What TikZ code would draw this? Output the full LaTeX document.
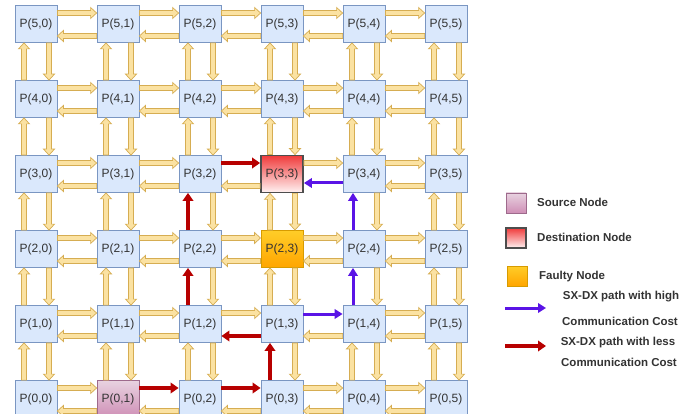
\documentclass[tikz,border=0pt]{standalone}
\usepackage{fontspec}
\setmainfont{Liberation Sans}
\usetikzlibrary{calc,arrows.meta}
\definecolor{cellfill}{HTML}{DAE8FC}
\definecolor{celldraw}{HTML}{7A96C2}
\definecolor{yfill}{HTML}{FBE2A2}
\definecolor{ydraw}{HTML}{D6AD52}
\definecolor{redpath}{HTML}{B70000}
\definecolor{bluepath}{HTML}{5A14E6}
\definecolor{txt}{HTML}{333333}
\definecolor{srctop}{HTML}{E8D2E0}
\definecolor{srcbot}{HTML}{CF8FB6}
\definecolor{srcdraw}{HTML}{9E6A8C}
\definecolor{dsttop}{HTML}{F03C3C}
\definecolor{dstbot}{HTML}{FFF2F2}
\definecolor{dstdraw}{HTML}{4D4D4D}
\definecolor{flttop}{HTML}{FFCD28}
\definecolor{fltbot}{HTML}{FFA500}
\definecolor{fltdraw}{HTML}{D79B00}
\newcommand\markskip[1]{\expandafter\def\csname skip#1\endcsname{}}
\newcommand\fatarrow[2]{%
  \path (#1) coordinate (fS) (#2) coordinate (fE);
  \path ($(fE)!6pt!(fS)$) coordinate (fH);
  \filldraw[yarrow] ($(fS)!2.5pt!90:(fE)$) -- ($(fH)!2.5pt!90:(fE)$) -- ($(fH)!5.5pt!90:(fE)$) -- (fE) -- ($(fH)!5.5pt!-90:(fE)$) -- ($(fH)!2.5pt!-90:(fE)$) -- ($(fS)!2.5pt!-90:(fE)$) -- cycle;}
% links replaced by coloured path arrows
\markskip{R01}\markskip{R02}\markskip{R32}\markskip{R13}
\markskip{L12}\markskip{L33}
\markskip{U03}\markskip{U12}\markskip{U22}\markskip{U14}\markskip{U24}
\begin{document}
\begin{tikzpicture}[x=1pt,y=-1pt,
  cell/.style={draw=celldraw,fill=cellfill,line width=0.8pt,minimum width=42pt,minimum height=37pt,inner sep=0pt,
    font=\fontsize{12}{14}\selectfont,text=txt},
  src/.style={cell,draw=srcdraw,top color=srctop,bottom color=srcbot},
  dst/.style={cell,draw=dstdraw,line width=1.8pt,top color=dsttop,bottom color=dstbot},
  fault/.style={cell,draw=fltdraw,line width=1pt,top color=flttop,bottom color=fltbot},
  yarrow/.style={draw=ydraw,fill=yfill,line width=0.7pt,line join=miter},
  redarr/.style={draw=redpath,line width=3.5pt,-{Triangle[length=8pt,width=10.5pt]}},
  bluearr/.style={draw=bluepath,line width=3pt,-{Triangle[length=8pt,width=9.5pt]}},
  legtext/.style={inner sep=0pt,font=\fontsize{11.5}{13}\selectfont\bfseries,text=txt}]
\useasboundingbox (0,0) rectangle (693,414);
\clip (0,0) rectangle (693,414);
\fill[white] (0,0) rectangle (693,414);
% grid of nodes
\foreach \row in {0,...,5}{
  \foreach \col in {0,...,5}{
    \def\st{cell}
    \ifnum\row\col=1 \def\st{src}\fi
    \ifnum\row\col=33 \def\st{dst}\fi
    \ifnum\row\col=23 \def\st{fault}\fi
    \node[\st] (n\row\col) at ({36+82*\col},{24+75*(5-\row)}) {P(\row,\col)};
  }
}
% horizontal links
\foreach \row in {0,...,5}{
  \foreach \col [evaluate=\col as \nxt using int(\col+1)] in {0,...,4}{
    \ifcsname skipR\row\col\endcsname\else
      \fatarrow{[yshift=11pt]n\row\col.east}{[yshift=11pt]n\row\nxt.west}\fi
    \ifcsname skipL\row\col\endcsname\else
      \fatarrow{[yshift=-12pt]n\row\nxt.west}{[yshift=-12pt]n\row\col.east}\fi
  }
}
% vertical links
\foreach \row [evaluate=\row as \up using int(\row+1)] in {0,...,4}{
  \foreach \col in {0,...,5}{
    \ifcsname skipU\row\col\endcsname\else
      \fatarrow{[xshift=-12pt]n\row\col.north}{[xshift=-12pt]n\up\col.south}\fi
    \fatarrow{[xshift=13pt]n\up\col.south}{[xshift=13pt]n\row\col.north}
  }
}
% low communication cost path (red)
\draw[redarr] ([yshift=11pt]n01.east) -- ([yshift=11pt]n02.west);
\draw[redarr] ([yshift=11pt]n02.east) -- ([yshift=11pt]n03.west);
\draw[redarr] ([xshift=-12pt]n03.north) -- ([xshift=-12pt]n13.south);
\draw[redarr] ([yshift=-12pt]n13.west) -- ([yshift=-12pt]n12.east);
\draw[redarr] ([xshift=-12pt]n12.north) -- ([xshift=-12pt]n22.south);
\draw[redarr] ([xshift=-12pt]n22.north) -- ([xshift=-12pt]n32.south);
\draw[redarr] ([yshift=11pt]n32.east) -- ([yshift=11pt]n33.west);
% high communication cost path (blue)
\draw[bluearr] ([yshift=10pt]n13.east) -- ([yshift=10pt]n14.west);
\draw[bluearr] ([xshift=-11pt]n14.north) -- ([xshift=-11pt]n24.south);
\draw[bluearr] ([xshift=-11pt]n24.north) -- ([xshift=-11pt]n34.south);
\draw[bluearr] ([yshift=-9pt]n34.west) -- ([yshift=-9pt]n33.east);
% legend
\node[src,minimum width=20pt,minimum height=20pt] (lsrc) at (516,203) {};
\node[legtext,anchor=west] (tsrc) at (537,202) {Source Node};
\node[dst,line width=1.4pt,minimum width=20pt,minimum height=20pt] (ldst) at (516,238) {};
\node[legtext,anchor=west] (tdst) at (537,237) {Destination Node};
\node[fault,minimum width=20pt,minimum height=20pt] (lflt) at (517,276) {};
\node[legtext,anchor=west] (tflt) at (539,277) {Faulty Node};
\coordinate (lb1) at (505,308);
\coordinate (lb2) at (546,308);
\draw[bluearr] (lb1) -- (lb2);
\node[legtext] (tb1) at (621,297) {SX-DX path with high};
\node[legtext] (tb2) at (620,321) {Communication Cost};
\coordinate (lr1) at (505,346);
\coordinate (lr2) at (546,346);
\draw[redarr] (lr1) -- (lr2);
\node[legtext] (tr1) at (618,343) {SX-DX path with less};
\node[legtext] (tr2) at (619,362) {Communication Cost};
\end{tikzpicture}
\end{document}
